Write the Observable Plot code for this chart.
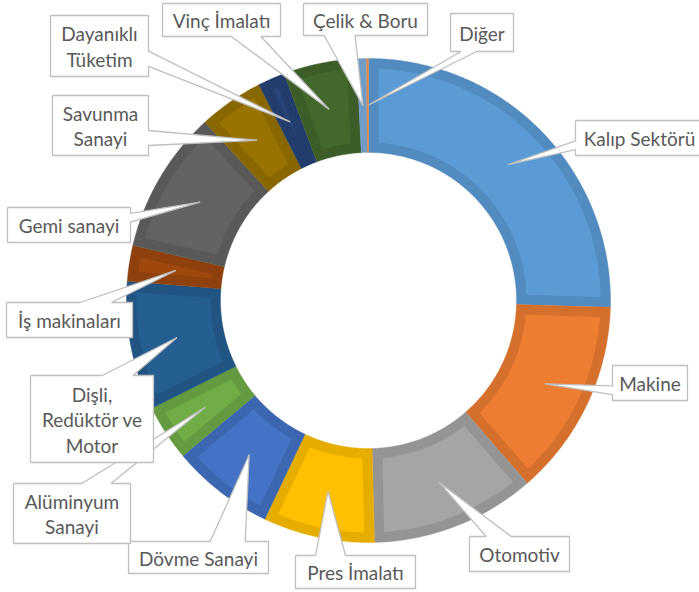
<!DOCTYPE html>
<html><head><meta charset="utf-8">
<script src="https://cdn.jsdelivr.net/npm/d3@7"></script>
<script src="https://cdn.jsdelivr.net/npm/@observablehq/plot@0.6"></script>
<style>body{margin:0;background:#fff} #chart svg{display:block}</style>
</head><body><div id="chart"></div>
<script>
// ---- data ----
const sectors = ["Kalıp Sektörü","Makine","Otomotiv","Pres İmalatı","Dövme Sanayi","Alüminyum Sanayi","Dişli, Redüktör ve Motor","İş makinaları","Gemi sanayi","Savunma Sanayi","Dayanıklı Tüketim","Vinç İmalatı","Çelik & Boru","Diğer"];
const shares = [25.44,13.17,11.0,7.44,6.86,3.75,8.61,2.39,9.53,4.33,1.81,4.89,0.64,0.14];
const labelText = ["Kalıp Sektörü","Makine","Otomotiv","Pres İmalatı","Dövme Sanayi","Alüminyum\nSanayi","Dişli,\nRedüktör ve\nMotor","İş makinaları","Gemi sanayi","Savunma\nSanayi","Dayanıklı\nTüketim","Vinç İmalatı","Çelik & Boru","Diğer"];
const palette = ["#5B9BD5","#ED7D31","#A5A5A5","#FFC000","#4472C4","#70AD47","#255E91","#9E480E","#636363","#997300","#264478","#43682B","#7CAFDD","#F1975A"];

// ---- layout (pixels) ----
const W = 699, H = 592, CX = 368, CY = 300, R_OUT = 242, R_IN = 148, BEVEL = 10;
const labelBoxes = [
  [575,120,703,155],[612,365,687,400],[469,536,569,571],[295,555,415,588],
  [128,541,268,573],[13,483,130,543],[30,375,153,462],[6,302,132,337],
  [7,207,130,242],[52,95,148,155],[50,15,148,76],[162,3,280,36],
  [303,3,427,35],[450,13,513,51]
];

const total = d3.sum(shares);
let acc = 0;
const slices = shares.map((v, i) => {
  const a0 = acc / total * 2 * Math.PI; acc += v;
  const a1 = acc / total * 2 * Math.PI;
  return {name: sectors[i], a0, a1, color: palette[i], label: labelText[i], box: labelBoxes[i]};
});

function arcPts(r, a0, a1) {
  const n = Math.max(2, Math.ceil(Math.abs(a1 - a0) * 180 / Math.PI * 2));
  return d3.range(n + 1).map(i => { const a = a0 + (a1 - a0) * i / n; return {x: r * Math.sin(a), y: r * Math.cos(a)}; });
}
function ring(r0, r1, a0, a1) {
  const pts = [...arcPts(r1, a0, a1), ...arcPts(r0, a1, a0)]; pts.push(pts[0]); return pts;
}
function insetRing(a0, a1) {
  const ro = R_OUT - BEVEL, ri = R_IN + BEVEL, d = a1 - a0;
  const rStar = 2 * BEVEL / d;
  if (rStar >= ro - 2) return null;
  const outer = arcPts(ro, a0 + BEVEL / ro, a1 - BEVEL / ro);
  let inner;
  if (rStar > ri) { const m = (a0 + a1) / 2; inner = [{x: rStar * Math.sin(m), y: rStar * Math.cos(m)}]; }
  else inner = arcPts(ri, a1 - BEVEL / ri, a0 + BEVEL / ri);
  const pts = [...outer, ...inner]; pts.push(pts[0]); return pts;
}
function callout(box, tip) {
  const [x0, y0, x1, y1] = box, w = x1 - x0, h = y1 - y0;
  const bx = (x0 + x1) / 2, by = (y0 + y1) / 2;
  const dx = tip[0] - bx, dy = tip[1] - by, dq = dx * h / w;
  const xa = x0 + w * (dx > 0 ? 7 : 2) / 12, xb = x0 + w * (dx > 0 ? 10 : 5) / 12;
  const ya = y0 + h * (dy > 0 ? 7 : 2) / 12, yb = y0 + h * (dy > 0 ? 10 : 5) / 12;
  let pts;
  if (Math.abs(dy) > Math.abs(dq)) {
    if (dy < 0) pts = [[x0,y0],[xa,y0],tip,[xb,y0],[x1,y0],[x1,y1],[x0,y1]];
    else pts = [[x0,y0],[x1,y0],[x1,y1],[xb,y1],tip,[xa,y1],[x0,y1]];
  } else {
    if (dx > 0) pts = [[x0,y0],[x1,y0],[x1,ya],tip,[x1,yb],[x1,y1],[x0,y1]];
    else pts = [[x0,y0],[x1,y0],[x1,y1],[x0,y1],[x0,yb],tip,[x0,ya]];
  }
  pts.push(pts[0]);
  return pts.map(([px, py]) => ({x: px - CX, y: CY - py}));
}

const marks = [];
for (const s of slices) {
  const frame = d3.color(s.color).darker(0.3).formatHex();
  marks.push(Plot.line(ring(R_IN, R_OUT, s.a0, s.a1), {x: "x", y: "y", fill: frame, stroke: frame, strokeWidth: 0.4}));
  const ins = insetRing(s.a0, s.a1);
  if (ins) marks.push(Plot.line(ins, {x: "x", y: "y", fill: s.color, stroke: "none"}));
}
const rMid = (R_OUT + R_IN) / 2;
for (const s of slices) {
  const m = (s.a0 + s.a1) / 2;
  const tip = [CX + rMid * Math.sin(m), CY - rMid * Math.cos(m)];
  marks.push(Plot.line(callout(s.box, tip), {x: "x", y: "y", fill: "white", stroke: "#bfbfbf", strokeWidth: 1.3, strokeLinejoin: "miter", strokeLinecap: "butt"}));
  const [x0, y0, x1, y1] = s.box;
  marks.push(Plot.text([{x: (x0 + x1) / 2 - CX, y: CY - (y0 + y1) / 2, t: s.label}], {
    x: "x", y: "y", text: "t", fontSize: 19, fill: "#595959", fontFamily: "Lato", lineHeight: 1.34
  }));
}

const chart = Plot.plot({
  width: W, height: H, margin: 0,
  x: {domain: [-CX, W - CX], axis: null},
  y: {domain: [CY - H, CY], axis: null},
  marks
});
document.getElementById("chart").appendChild(chart);
</script>
</body></html>
